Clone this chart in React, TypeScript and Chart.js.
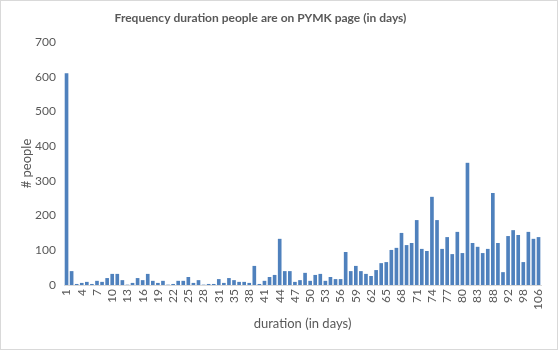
import React, { useEffect, useRef } from "react";
import { Chart, registerables } from "chart.js";

Chart.register(...registerables);

const title = "Frequency duration people are on PYMK page (in days)";
const xTitle = "duration (in days)";
const yTitle = "# people";

const days: number[] = [
  1, 2, 3, 4, 5, 6, 7, 8, 9, 10, 11, 12, 13, 14, 15, 16, 17, 18, 19, 20,
  21, 22, 23, 24, 25, 26, 27, 28, 29, 30, 31, 33, 34, 35, 36, 37, 38, 39, 40, 41,
  42, 43, 44, 45, 46, 47, 48, 49, 50, 51, 52, 53, 54, 55, 56, 57, 58, 59, 60, 61,
  62, 63, 64, 65, 66, 67, 68, 69, 70, 71, 72, 73, 74, 75, 76, 77, 78, 79, 80, 81,
  82, 83, 85, 86, 88, 89, 90, 92, 94, 96, 98, 101, 103, 106,
];

const people: number[] = [
  610, 40, 3, 6, 9, 3, 12, 9, 20, 32, 32,
  14, 1, 6, 20, 14, 32, 12, 6, 12, 1,
  3, 12, 12, 23, 6, 14, 1, 3, 3, 17,
  6, 20, 14, 9, 9, 6, 55, 3, 12, 23,
  29, 133, 40, 40, 9, 14, 35, 12, 29, 32,
  12, 23, 17, 17, 95, 40, 55, 40, 32, 26,
  43, 63, 66, 101, 107, 150, 115, 121, 187, 104,
  98, 254, 187, 104, 138, 89, 153, 92, 352, 121,
  110, 92, 104, 265, 121, 37, 141, 158, 144, 66,
  153, 133, 138,
];

const yTicks: number[] = [0, 100, 200, 300, 400, 500, 600, 700];

const GRAY = "#595959";
const FONT = "Lato, 'Liberation Sans', Arial, sans-serif";

export default function App() {
  const ref = useRef<HTMLCanvasElement | null>(null);

  useEffect(() => {
    document.body.style.margin = "0";
    const canvas = ref.current;
    if (!canvas) return;

    const titlePlugin = {
      id: "fixedTitle",
      afterDraw(chart: any) {
        const ctx = chart.ctx;
        ctx.save();
        ctx.font = `bold 12px ${FONT}`;
        ctx.fillStyle = GRAY;
        ctx.textAlign = "center";
        ctx.textBaseline = "middle";
        ctx.fillText(title, 259.5, 17);
        ctx.restore();
      },
    };

    const chart = new Chart(canvas, {
      type: "bar",
      data: {
        labels: days.map(String),
        datasets: [
          {
            data: people,
            backgroundColor: "#4f81bd",
            barPercentage: 0.72,
            categoryPercentage: 1,
          },
        ],
      },
      options: {
        animation: false,
        responsive: false,
        maintainAspectRatio: false,
        layout: { padding: { top: 41, left: 14, right: 15, bottom: 13 } },
        plugins: {
          legend: { display: false },
          tooltip: { enabled: false },
          title: { display: false },
        },
        scales: {
          x: {
            grid: { display: false, drawTicks: false },
            border: { display: true, color: "#d9d9d9", width: 1 },
            ticks: {
              autoSkip: false,
              maxRotation: 90,
              minRotation: 90,
              padding: 4,
              color: GRAY,
              font: { family: FONT, size: 12 },
              callback: (_v: any, i: number) => (i % 3 === 0 ? String(days[i]) : ""),
            },
            title: {
              display: true,
              text: xTitle,
              color: GRAY,
              font: { family: FONT, size: 13 },
              padding: { top: 4, bottom: 4 },
            },
            afterFit: (s: any) => {
              s.height = 51;
            },
          },
          y: {
            min: 0,
            max: 700,
            afterBuildTicks: (s: any) => {
              s.ticks = yTicks.map((v) => ({ value: v }));
            },
            grid: { display: false, drawTicks: false },
            border: { display: false },
            ticks: {
              padding: 8,
              color: GRAY,
              font: { family: FONT, size: 12 },
            },
            title: {
              display: true,
              text: yTitle,
              color: GRAY,
              font: { family: FONT, size: 13 },
              padding: { top: 4, bottom: 4 },
            },
            afterFit: (s: any) => {
              s.width = 49;
            },
          },
        },
      },
      plugins: [titlePlugin],
    });

    return () => chart.destroy();
  }, []);

  return (
    <div
      style={{
        width: 558,
        height: 350,
        boxSizing: "border-box",
        border: "1px solid #d9d9d9",
        background: "#fff",
        position: "relative",
      }}
    >
      <canvas ref={ref} width={556} height={348} style={{ display: "block", width: 556, height: 348 }} />
    </div>
  );
}
